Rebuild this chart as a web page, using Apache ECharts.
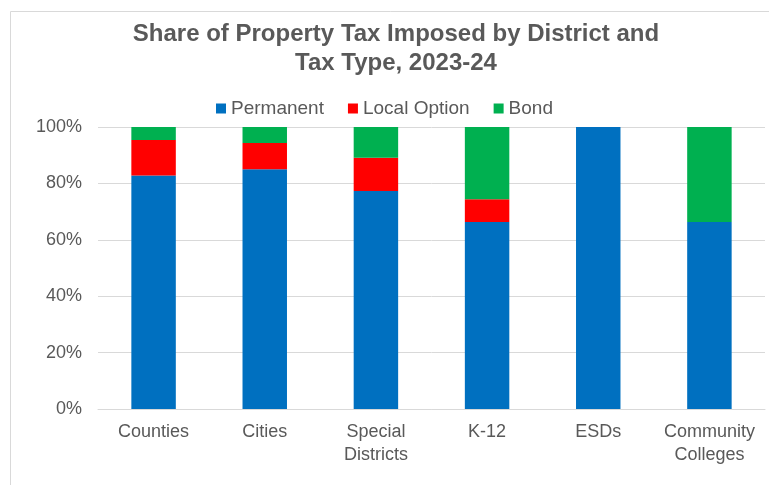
<!DOCTYPE html>
<html>
<head>
<meta charset="utf-8">
<script src="https://cdn.jsdelivr.net/npm/echarts@6/dist/echarts.min.js"></script>
<style>
  html, body { margin: 0; padding: 0; background: #fff; }
  #chart { width: 769px; height: 485px; }
</style>
</head>
<body>
<div id="chart"></div>
<script>
// categories and shares (%)
const districts = ['Counties', 'Cities', 'Special\nDistricts', 'K-12', 'ESDs', 'Community\nColleges']
const permanent = [82.8, 85.0, 77.3, 66.3, 100, 66.3]
const localOption = [12.6, 9.3, 11.8, 8.1, 0, 0]
const bond = [4.6, 5.7, 10.9, 25.6, 0, 33.7]
const yTicks = [0, 20, 40, 60, 80, 100]

const textColor = '#595959'
const font = 'Liberation Sans, Arial, sans-serif'

const chart = echarts.init(document.getElementById('chart'))

const option = {
  animation: false,
  textStyle: { fontFamily: font },
  // outer border of the chart area
  graphic: [{
    type: 'rect',
    shape: { x: 10.5, y: 11.5, width: 800, height: 520 },
    style: { fill: 'none', stroke: '#d9d9d9', lineWidth: 1 },
    silent: true
  }],
  title: {
    text: 'Share of Property Tax Imposed by District and\nTax Type, 2023-24',
    left: 391,
    textAlign: 'center',
    top: 15,
    textStyle: {
      fontFamily: font,
      fontSize: 24,
      fontWeight: 'bold',
      color: textColor,
      lineHeight: 29
    }
  },
  legend: {
    top: 94,
    left: 'center',
    itemWidth: 10,
    itemHeight: 10,
    itemGap: 24,
    icon: 'rect',
    textStyle: { fontFamily: font, fontSize: 19, color: textColor },
    data: ['Permanent', 'Local Option', 'Bond']
  },
  grid: {
    left: 98,
    right: 4,
    top: 127,
    bottom: 76
  },
  xAxis: {
    type: 'category',
    data: districts,
    axisLine: { lineStyle: { color: '#d9d9d9', width: 1 } },
    axisTick: { show: false },
    axisLabel: {
      color: textColor,
      fontSize: 18,
      fontFamily: font,
      margin: 12,
      lineHeight: 23,
      interval: 0
    }
  },
  yAxis: {
    type: 'value',
    min: yTicks[0],
    max: yTicks[yTicks.length - 1],
    interval: 20,
    axisLine: { show: false },
    axisTick: { show: false },
    splitLine: { lineStyle: { color: '#d9d9d9', width: 1 } },
    axisLabel: {
      color: textColor,
      fontSize: 18,
      fontFamily: font,
      margin: 16,
      formatter: v => v + '%'
    }
  },
  series: [
    {
      name: 'Permanent',
      type: 'bar',
      stack: 'share',
      barWidth: '40%',
      data: permanent,
      itemStyle: { color: '#0070C0' }
    },
    {
      name: 'Local Option',
      type: 'bar',
      stack: 'share',
      data: localOption,
      itemStyle: { color: '#FF0000' }
    },
    {
      name: 'Bond',
      type: 'bar',
      stack: 'share',
      data: bond,
      itemStyle: { color: '#00B050' }
    }
  ]
}

chart.setOption(option)
</script>
</body>
</html>
